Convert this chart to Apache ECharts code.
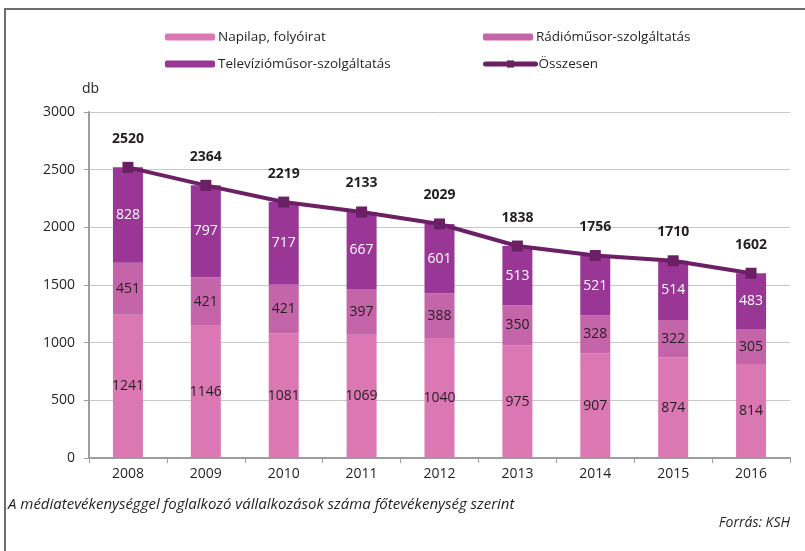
<!DOCTYPE html>
<html>
<head>
<meta charset="utf-8">
<script src="https://cdn.jsdelivr.net/npm/echarts@6/dist/echarts.min.js"></script>
<style>
  html, body { margin: 0; padding: 0; background: #fff; }
  #chart { width: 805px; height: 551px; }
</style>
</head>
<body>
<div id="chart"></div>
<script>
// évek
const years = ["2008", "2009", "2010", "2011", "2012", "2013", "2014", "2015", "2016"];
// a három kategória + összesen
const napilap = [1241, 1146, 1081, 1069, 1040, 975, 907, 874, 814];
const radio = [451, 421, 421, 397, 388, 350, 328, 322, 305];
const tv = [828, 797, 717, 667, 601, 513, 521, 514, 483];
const osszesen = [2520, 2364, 2219, 2133, 2029, 1838, 1756, 1710, 1602];

const FONT = "'Open Sans', 'DejaVu Sans', sans-serif";
const TXT = "#231f20";

const chart = echarts.init(document.getElementById("chart"));

const legendBase = {
  orient: "horizontal",
  padding: 0,
  itemWidth: 50,
  itemHeight: 7,
  itemGap: 3,
  textStyle: { fontFamily: FONT, fontSize: 13.5, color: TXT, padding: [0, 0, 0, -2] },
  selectedMode: false,
};

const option = {
  animation: false,
  textStyle: { fontFamily: FONT },
  graphic: [
    {
      type: "rect",
      shape: { x: 5, y: 9, width: 900, height: 700 },
      style: { fill: "none", stroke: "#6d6d6d", lineWidth: 2 },
      silent: true,
    },
    {
      type: "text",
      left: 82,
      top: 82,
      style: { text: "db", font: "14px " + FONT, fill: TXT },
    },
    {
      type: "text",
      left: 8,
      top: 497,
      style: {
        text: "A médiatevékenységgel foglalkozó vállalkozások száma főtevékenység szerint",
        font: "italic 15px " + FONT,
        fill: TXT,
      },
    },
    {
      type: "text",
      right: 15,
      top: 516,
      style: { text: "Forrás: KSH", font: "italic 14px " + FONT, fill: TXT },
    },
  ],
  legend: [
    Object.assign({}, legendBase, { left: 165, top: 30, data: ["Napilap, folyóirat"] }),
    Object.assign({}, legendBase, { left: 483, top: 30, data: ["Rádióműsor-szolgáltatás"] }),
    Object.assign({}, legendBase, { left: 165, top: 57, data: ["Televízióműsor-szolgáltatás"] }),
    Object.assign({}, legendBase, {
      left: 483,
      top: 57,
      itemHeight: 9,
      lineStyle: { width: 5, cap: "round" },
      data: ["Összesen"],
    }),
  ],
  grid: {
    left: 89,
    right: 15,
    top: 112,
    bottom: 93,
  },
  xAxis: {
    type: "category",
    data: years,
    boundaryGap: true,
    axisLine: { lineStyle: { color: "#9d9d9d", width: 2 } },
    axisTick: { show: true, length: 5, lineStyle: { color: "#9d9d9d", width: 1 } },
    axisLabel: { fontSize: 14, color: TXT, margin: 9, fontFamily: FONT },
  },
  yAxis: {
    type: "value",
    min: 0,
    max: 3000,
    interval: 500,
    axisLine: { show: true, lineStyle: { color: "#9d9d9d", width: 2 } },
    axisTick: { show: true, length: 5, lineStyle: { color: "#9d9d9d" } },
    axisLabel: {
      fontSize: 14,
      color: TXT,
      margin: 14,
      fontFamily: FONT,
      formatter: (v) => String(v),
    },
    splitLine: { lineStyle: { color: "#c6c6c6", width: 1 } },
  },
  series: [
    {
      name: "Napilap, folyóirat",
      type: "bar",
      stack: "total",
      barWidth: 30,
      data: napilap,
      itemStyle: { color: "#db78b4" },
      label: { show: true, position: "inside", color: TXT, fontSize: 14, fontFamily: FONT },
    },
    {
      name: "Rádióműsor-szolgáltatás",
      type: "bar",
      stack: "total",
      barWidth: 30,
      data: radio,
      itemStyle: { color: "#c565a9" },
      label: { show: true, position: "inside", color: TXT, fontSize: 14, fontFamily: FONT },
    },
    {
      name: "Televízióműsor-szolgáltatás",
      type: "bar",
      stack: "total",
      barWidth: 30,
      data: tv,
      itemStyle: { color: "#9a3796" },
      label: { show: true, position: "inside", color: "#ffffff", fontSize: 14, fontFamily: FONT },
    },
    {
      name: "Összesen",
      type: "line",
      data: osszesen,
      z: 5,
      symbol: "rect",
      symbolSize: 11,
      lineStyle: { color: "#6b1f64", width: 4 },
      itemStyle: { color: "#6b1f64" },
      label: {
        show: true,
        position: "top",
        distance: 16,
        color: TXT,
        fontWeight: "bold",
        fontSize: 14,
        fontFamily: FONT,
      },
    },
  ],
};

chart.setOption(option);
</script>
</body>
</html>
